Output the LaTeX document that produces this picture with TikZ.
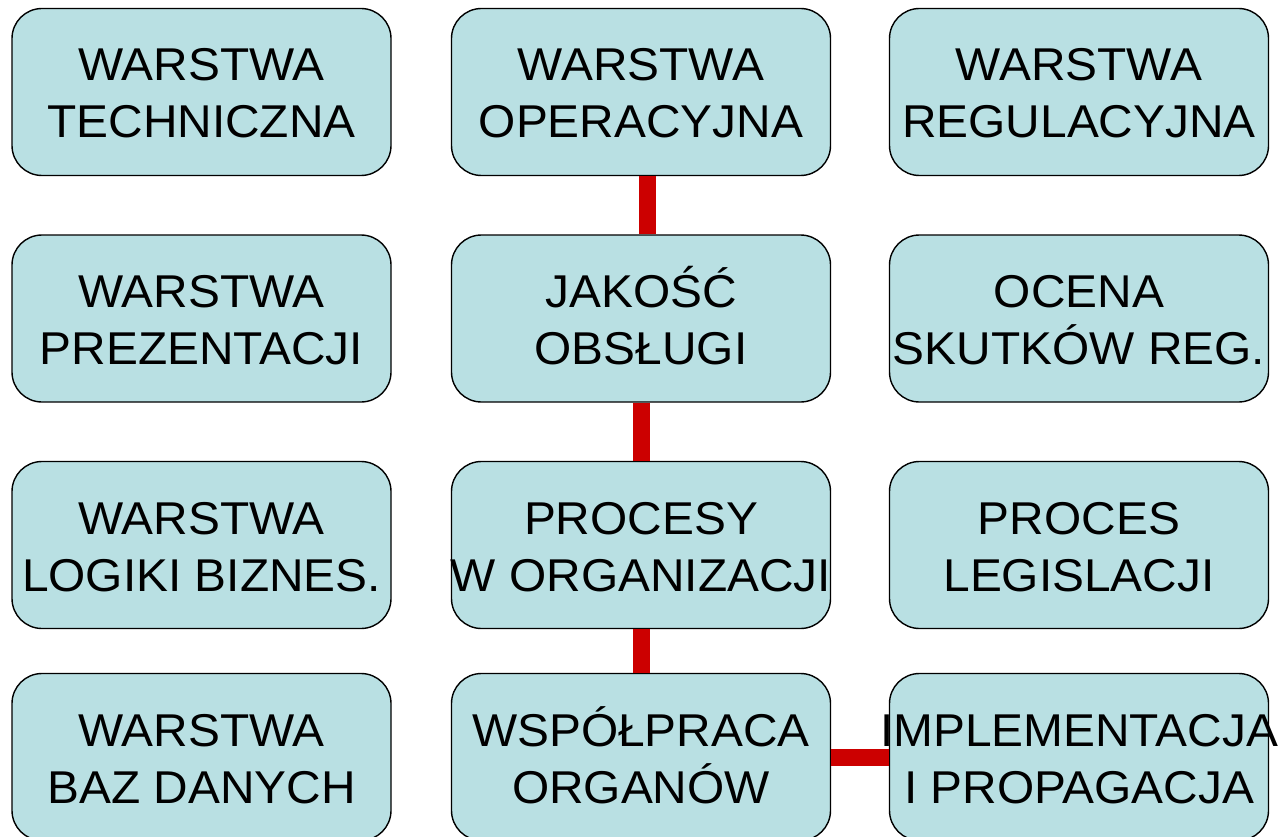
\documentclass[tikz,border=0pt]{standalone}
\usepackage{fontspec}
\setmainfont[FakeStretch=1.04]{Liberation Sans}
\definecolor{boxfill}{RGB}{185,224,227}
\definecolor{connred}{RGB}{204,0,0}
\newcommand{\twoline}[2]{\rule{0pt}{44pt}#1\\#2\rule[-9pt]{0pt}{9pt}}
\begin{document}
\begin{tikzpicture}[x=1pt,y=-1pt,
  box/.style={draw=black,line width=1.4pt,fill=boxfill,rounded corners=30pt,
    minimum width=379pt,minimum height=167pt,inner sep=0pt},
  txt/.style={inner sep=0pt,align=center,
    font=\fontsize{46pt}{57pt}\selectfont},
  conn/.style={draw=connred,line width=17pt}]
\useasboundingbox (0,0) rectangle (1281,837);
% boxes
\node[box] (b11) at (201.5,92) {};
\node[box] (b12) at (641,92) {};
\node[box] (b13) at (1079,92) {};
\node[box] (b21) at (201.5,318.5) {};
\node[box] (b22) at (641,318.5) {};
\node[box] (b23) at (1079,318.5) {};
\node[box] (b31) at (201.5,545) {};
\node[box] (b32) at (641,545) {};
\node[box] (b33) at (1079,545) {};
\node[box] (b41) at (201.5,757) {};
\node[box] (b42) at (641,757) {};
\node[box] (b43) at (1079,757) {};
% connectors
\draw[conn] ([xshift=6.5pt]b12.south) -- ([xshift=6.5pt]b22.north);
\draw[conn] ([xshift=0.5pt]b22.south) -- ([xshift=0.5pt]b32.north);
\draw[conn] ([xshift=0.5pt]b32.south) -- ([xshift=0.5pt]b42.north);
\draw[conn] (b42.east) -- (b43.west);
% texts
\node[txt] (t11) at (b11) {\twoline{WARSTWA}{TECHNICZNA}};
\node[txt] (t12) at (b12) {\twoline{WARSTWA}{OPERACYJNA}};
\node[txt] (t13) at (b13) {\twoline{WARSTWA}{REGULACYJNA}};
\node[txt] (t21) at (b21) {\twoline{WARSTWA}{PREZENTACJI}};
\node[txt] (t22) at (b22) {\twoline{JAKOŚĆ}{OBSŁUGI}};
\node[txt] (t23) at (b23) {\twoline{OCENA}{SKUTKÓW REG.}};
\node[txt] (t31) at (b31) {\twoline{WARSTWA}{LOGIKI BIZNES.}};
\node[txt] (t32) at (b32) {\twoline{PROCESY}{W ORGANIZACJI}};
\node[txt] (t33) at (b33) {\twoline{PROCES}{LEGISLACJI}};
\node[txt] (t41) at (b41) {\twoline{WARSTWA}{BAZ DANYCH}};
\node[txt] (t42) at (b42) {\twoline{WSPÓŁPRACA}{ORGANÓW}};
\node[txt] (t43) at (b43) {\twoline{IMPLEMENTACJA}{I PROPAGACJA}};
\end{tikzpicture}
\end{document}
